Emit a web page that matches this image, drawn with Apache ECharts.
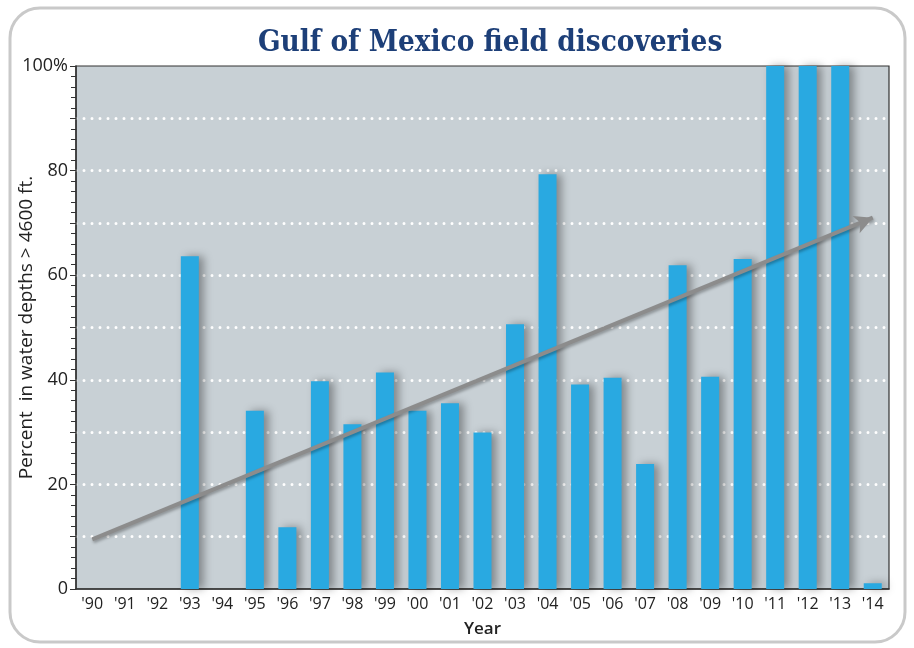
<!DOCTYPE html>
<html>
<head>
<meta charset="utf-8">
<script src="https://cdn.jsdelivr.net/npm/echarts@6/dist/echarts.min.js"></script>
<style>
  html, body { margin: 0; padding: 0; background: #ffffff; }
  #chart { width: 914px; height: 648px; }
</style>
</head>
<body>
<div id="chart"></div>
<script>
// Years of discovery (x-axis categories)
const years = ["'90", "'91", "'92", "'93", "'94", "'95", "'96", "'97", "'98", "'99",
  "'00", "'01", "'02", "'03", "'04", "'05", "'06", "'07", "'08", "'09",
  "'10", "'11", "'12", "'13", "'14"];

// Share of field discoveries in water deeper than 4600 ft, percent
const deepwaterShare = [0, 0, 0, 63.6, 0, 34.1, 11.8, 39.7, 31.5, 41.4,
  34.1, 35.5, 29.9, 50.6, 79.3, 39.1, 40.4, 23.9, 61.9, 40.6,
  63.1, 100, 100, 100, 1.1];

// Trend arrow: start and end values
const trendYears = ["'90", "'14"];
const trendValues = [9.5, 71];

// Labelled y-axis ticks
const yTickLabels = ['0', '20', '40', '60', '80', '100%'];

const chart = echarts.init(document.getElementById('chart'), null, { renderer: 'canvas' });

const option = {
  animation: false,
  backgroundColor: '#ffffff',
  title: {
    text: 'Gulf of Mexico field discoveries',
    left: 253,
    top: 24,
    textStyle: {
      fontFamily: '"DejaVu Serif Condensed", "DejaVu Serif", serif',
      fontWeight: 'bold',
      fontSize: 29.4,
      color: '#1d3f78'
    }
  },
  graphic: [{
    type: 'rect',
    z: -10,
    shape: { x: 10, y: 8, width: 895, height: 634, r: 30 },
    style: { fill: 'none', stroke: '#c9c9c9', lineWidth: 3 }
  }],
  grid: {
    left: 76, right: 25, top: 66, bottom: 59,
    outerBoundsMode: 'none',
    containLabel: false,
    show: true,
    backgroundColor: '#c8d0d5',
    borderColor: '#333333',
    borderWidth: 1.2
  },
  xAxis: {
    type: 'category',
    data: years,
    name: 'Year',
    nameLocation: 'middle',
    nameGap: 32,
    nameMoveOverlap: false,
    nameTextStyle: { fontFamily: '"Open Sans", sans-serif', fontSize: 17, fontWeight: 600, color: '#222' },
    axisLine: { lineStyle: { color: '#333', width: 1.5 } },
    axisTick: { show: false },
    axisLabel: { fontFamily: '"Open Sans", sans-serif', fontSize: 16, color: '#222', margin: 7 }
  },
  yAxis: {
    type: 'value',
    min: 0, max: 100, interval: 10,
    name: 'Percent  in water depths > 4600 ft.',
    nameLocation: 'middle',
    nameGap: 40,
    nameMoveOverlap: false,
    nameTextStyle: { fontFamily: '"Open Sans", sans-serif', fontSize: 19, fontWeight: 500, color: '#222' },
    axisLine: { show: true, lineStyle: { color: '#333', width: 1.5 } },
    axisTick: { show: true, length: 6, lineStyle: { color: '#333' } },
    minorTick: { show: true, splitNumber: 5, length: 5, lineStyle: { color: '#333' } },
    axisLabel: {
      fontFamily: '"Open Sans", sans-serif', fontSize: 18, color: '#222', margin: 8,
      formatter: v => (v % 20 === 0 ? yTickLabels[v / 20] : '')
    },
    splitLine: {
      show: true,
      showMinLine: false,
      showMaxLine: false,
      lineStyle: { color: '#ffffff', width: 3, type: [0, 8], cap: 'round' }
    }
  },
  series: [{
    type: 'bar',
    data: deepwaterShare,
    barWidth: 18,
    itemStyle: {
      color: '#29a9e1',
      shadowColor: 'rgba(0,0,0,0.35)',
      shadowBlur: 8,
      shadowOffsetX: 5,
      shadowOffsetY: 0
    },
    markLine: {
      silent: true,
      symbol: ['none', 'arrow'],
      symbolSize: [14, 18],
      label: { show: false },
      lineStyle: {
        color: '#8c8c8c', width: 4, type: 'solid',
        shadowColor: 'rgba(0,0,0,0.3)', shadowBlur: 3, shadowOffsetX: 1, shadowOffsetY: 2
      },
      data: [[
        { coord: [trendYears[0], trendValues[0]] },
        { coord: [trendYears[1], trendValues[1]] }
      ]]
    }
  }]
};

chart.setOption(option);
</script>
</body>
</html>
